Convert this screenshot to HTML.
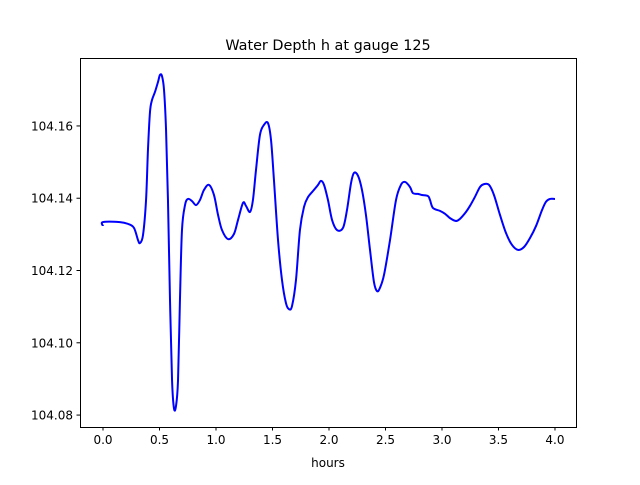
<!DOCTYPE html>
<html><head><meta charset="utf-8"><style>
body{margin:0;background:#fff;font-family:"Liberation Sans","DejaVu Sans",sans-serif}
svg text{font-family:"DejaVu Sans","Liberation Sans",sans-serif;font-size:12px;fill:#000}
</style></head><body>
<svg id="chart" width="640" height="480" xmlns="http://www.w3.org/2000/svg">
<rect width="640" height="480" fill="#fff"/>
<text x="328" y="50" text-anchor="middle" style="font-size:14.4px">Water Depth h at gauge 125</text>
<g id="plot"></g>
<rect x="80.5" y="58.5" width="496" height="369" fill="none" stroke="#000" stroke-width="1"/>
<text x="328" y="467" text-anchor="middle">hours</text>
</svg>
<script>
const hours=[0.0,0.0,0.150,0.221,0.274,0.310,0.327,0.354,0.381,0.398,0.416,0.434,0.460,0.487,0.504,0.522,0.540,0.558,0.575,0.593,0.611,0.628,0.646,0.664,0.681,0.699,0.726,0.752,0.788,0.823,0.858,0.894,0.938,0.982,1.018,1.053,1.106,1.159,1.195,1.239,1.265,1.301,1.327,1.354,1.389,1.425,1.460,1.487,1.513,1.549,1.584,1.619,1.646,1.673,1.708,1.743,1.779,1.814,1.867,1.903,1.929,1.956,1.991,2.027,2.071,2.124,2.159,2.195,2.221,2.257,2.292,2.327,2.363,2.398,2.425,2.451,2.487,2.540,2.593,2.637,2.673,2.717,2.743,2.788,2.823,2.876,2.894,2.920,2.982,3.027,3.071,3.124,3.159,3.212,3.248,3.292,3.336,3.372,3.416,3.460,3.513,3.566,3.619,3.673,3.726,3.779,3.832,3.885,3.920,3.956,4.0];
const depth=[104.1323,104.1334,104.1334,104.1329,104.1318,104.1284,104.1276,104.1298,104.1395,104.1534,104.1639,104.1672,104.1694,104.1722,104.1741,104.1738,104.1700,104.1589,104.1395,104.1118,104.0897,104.0819,104.0825,104.0897,104.1118,104.1312,104.1381,104.1398,104.1392,104.1381,104.1395,104.1423,104.1437,104.1409,104.1354,104.1312,104.1287,104.1301,104.1340,104.1387,104.1379,104.1362,104.1395,104.1478,104.1575,104.1603,104.1608,104.1561,104.1450,104.1284,104.1174,104.1110,104.1093,104.1102,104.1174,104.1312,104.1376,104.1403,104.1423,104.1437,104.1448,104.1437,104.1395,104.1340,104.1312,104.1318,104.1367,104.1442,104.1470,104.1462,104.1423,104.1354,104.1257,104.1168,104.1143,104.1152,104.1188,104.1284,104.1395,104.1437,104.1445,104.1431,104.1414,104.1412,104.1409,104.1406,104.1395,104.1373,104.1365,104.1357,104.1345,104.1337,104.1343,104.1362,104.1379,104.1404,104.1431,104.1439,104.1437,104.1409,104.1354,104.1304,104.1271,104.1257,104.1265,104.1290,104.1323,104.1367,104.1390,104.1398,104.1398];
const xTicks=[0.0,0.5,1.0,1.5,2.0,2.5,3.0,3.5,4.0];
const yTicks=[104.08,104.10,104.12,104.14,104.16];
const xMin=-0.2035,xMax=4.186,yMin=104.0767,yMax=104.1788;
const L=80,R=576,T=58,B=427;
function xs(v){return L+(v-xMin)/(xMax-xMin)*(R-L);}
function ys(v){return B-(v-yMin)/(yMax-yMin)*(B-T);}
const NS="http://www.w3.org/2000/svg";
const g=document.getElementById('plot');
xTicks.forEach(t=>{
  const x=xs(t);
  const ln=document.createElementNS(NS,'line');
  
  
  ln.setAttribute('x1',x);ln.setAttribute('x2',x);ln.setAttribute('y1',427);ln.setAttribute('y2',430.5);ln.setAttribute('stroke','#000');
  g.appendChild(ln);
  const tx=document.createElementNS(NS,'text');
  
  
  tx.setAttribute('x',x);tx.setAttribute('y',444);tx.setAttribute('text-anchor','middle');
  tx.textContent=t.toFixed(1);g.appendChild(tx);
});
yTicks.forEach(t=>{
  const y=ys(t);
  const ln=document.createElementNS(NS,'line');
  
  
  ln.setAttribute('x1',76.5);ln.setAttribute('x2',80);ln.setAttribute('y1',y);ln.setAttribute('y2',y);ln.setAttribute('stroke','#000');
  g.appendChild(ln);
  const tx=document.createElementNS(NS,'text');
  
  
  tx.setAttribute('x',73);tx.setAttribute('y',y+4.5);tx.setAttribute('text-anchor','end');
  tx.textContent=t.toFixed(2);g.appendChild(tx);
});
const pts=hours.map((h,i)=>[xs(h),ys(depth[i])]);
let d='M'+pts[0][0]+','+pts[0][1];
for(let i=1;i<pts.length;i++){
  const p0=pts[Math.max(0,i-2)],p1=pts[i-1],p2=pts[i],p3=pts[Math.min(pts.length-1,i+1)];
  const c1x=p1[0]+(p2[0]-p0[0])/6,c1y=p1[1]+(p2[1]-p0[1])/6;
  const c2x=p2[0]-(p3[0]-p1[0])/6,c2y=p2[1]-(p3[1]-p1[1])/6;
  d+=' C'+c1x+','+c1y+' '+c2x+','+c2y+' '+p2[0]+','+p2[1];
}
const path=document.createElementNS(NS,'path');


path.setAttribute('d',d);path.setAttribute('fill','none');path.setAttribute('stroke','#0000ff');path.setAttribute('stroke-width','2');path.setAttribute('stroke-linejoin','round');
g.appendChild(path);
</script>
</body></html>
